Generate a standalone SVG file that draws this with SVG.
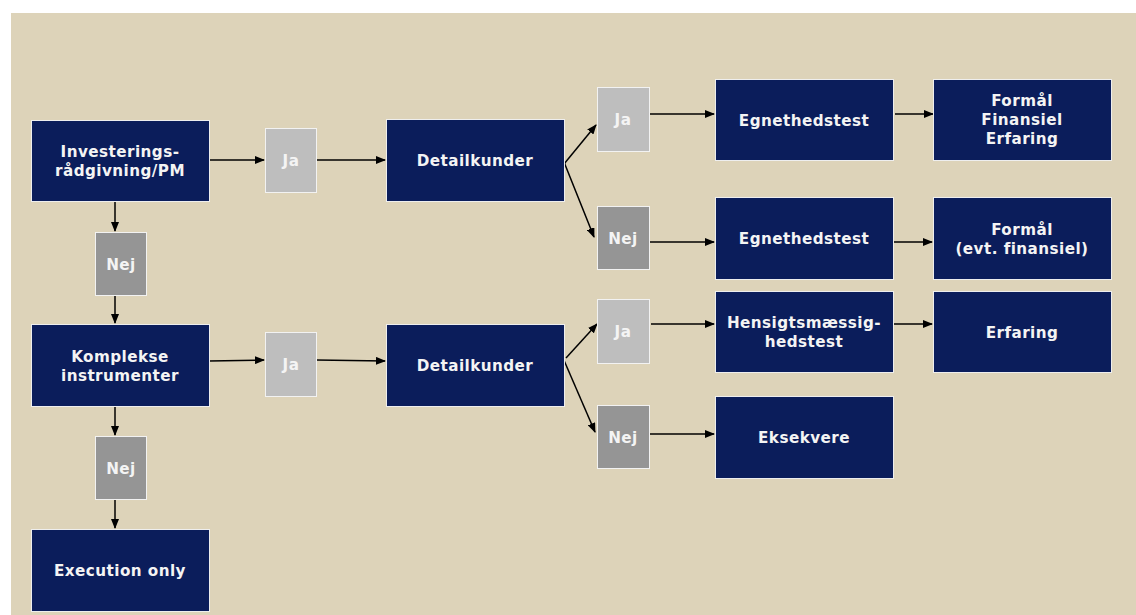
<svg xmlns="http://www.w3.org/2000/svg" width="1136" height="615" viewBox="0 0 1136 615">
<defs>
<marker id="ah" markerUnits="userSpaceOnUse" markerWidth="10" markerHeight="8" refX="9" refY="4" orient="auto">
<path d="M0,0 L10,4 L0,8 Z" fill="#000"/>
</marker>
<style>
.dk{fill:#0B1D5B;stroke:#EEEEEE;stroke-width:1}
.ja{fill:#BEBEBE;stroke:#F2F2F2;stroke-width:1}
.nej{fill:#959595;stroke:#F2F2F2;stroke-width:1}
text{font-family:"DejaVu Sans",Verdana,sans-serif;font-weight:bold;font-size:15.2px;letter-spacing:0.45px;fill:#F4F4F4;text-anchor:middle}
.c line{stroke:#000;stroke-width:1.5;marker-end:url(#ah)}
</style>
</defs>
<rect x="0" y="0" width="1136" height="615" fill="#FFFFFF"/>
<rect x="11" y="13" width="1125" height="602" fill="#DDD3B9"/>

<g class="c" id="connectors">
<line x1="209" y1="160" x2="264" y2="160"/>
<line x1="316" y1="160" x2="385" y2="160"/>
<line x1="564" y1="164" x2="596" y2="125"/>
<line x1="564" y1="162" x2="594" y2="237"/>
<line x1="649" y1="114" x2="714" y2="114"/>
<line x1="649" y1="242" x2="714" y2="242"/>
<line x1="895" y1="114" x2="933" y2="114"/>
<line x1="893" y1="242" x2="932" y2="242"/>
<line x1="115" y1="201" x2="115" y2="231"/>
<line x1="115" y1="295" x2="115" y2="323"/>
<line x1="209" y1="361" x2="264" y2="360"/>
<line x1="316" y1="360" x2="385" y2="361"/>
<line x1="115" y1="406" x2="115" y2="435"/>
<line x1="115" y1="499" x2="115" y2="528"/>
<line x1="566" y1="358" x2="597" y2="324"/>
<line x1="563" y1="358" x2="595" y2="432"/>
<line x1="651" y1="324" x2="714" y2="324"/>
<line x1="648" y1="434" x2="714" y2="434"/>
<line x1="893" y1="324" x2="932" y2="324"/>
</g>

<g id="investering"><rect class="dk" x="31.5" y="120.5" width="178" height="81"/><text x="120" y="157">Investerings-</text><text x="120" y="176">rådgivning/PM</text></g>
<g id="ja1"><rect class="ja" x="265.5" y="128.5" width="51" height="64"/><text x="291" y="166">Ja</text></g>
<g id="detail1"><rect class="dk" x="386.5" y="119.5" width="178" height="82"/><text x="475" y="166">Detailkunder</text></g>
<g id="ja2"><rect class="ja" x="597.5" y="87.5" width="52" height="64"/><text x="623" y="125">Ja</text></g>
<g id="nej2"><rect class="nej" x="597.5" y="206.5" width="52" height="63"/><text x="623" y="244">Nej</text></g>
<g id="egnet1"><rect class="dk" x="715.5" y="79.5" width="178" height="81"/><text x="804" y="126">Egnethedstest</text></g>
<g id="formaal1"><rect class="dk" x="933.5" y="79.5" width="178" height="81"/><text x="1022" y="106">Formål</text><text x="1022" y="125">Finansiel</text><text x="1022" y="144">Erfaring</text></g>
<g id="egnet2"><rect class="dk" x="715.5" y="197.5" width="178" height="82"/><text x="804" y="244">Egnethedstest</text></g>
<g id="formaal2"><rect class="dk" x="933.5" y="197.5" width="178" height="82"/><text x="1022" y="235">Formål</text><text x="1022" y="254">(evt. finansiel)</text></g>
<g id="nej1"><rect class="nej" x="95.5" y="232.5" width="51" height="63"/><text x="121" y="270">Nej</text></g>
<g id="komplekse"><rect class="dk" x="31.5" y="324.5" width="178" height="82"/><text x="120" y="362">Komplekse</text><text x="120" y="381">instrumenter</text></g>
<g id="ja3"><rect class="ja" x="265.5" y="332.5" width="51" height="64"/><text x="291" y="370">Ja</text></g>
<g id="detail2"><rect class="dk" x="386.5" y="324.5" width="178" height="82"/><text x="475" y="371">Detailkunder</text></g>
<g id="ja4"><rect class="ja" x="597.5" y="299.5" width="52" height="64"/><text x="623" y="337">Ja</text></g>
<g id="nej4"><rect class="nej" x="597.5" y="405.5" width="52" height="63"/><text x="623" y="443">Nej</text></g>
<g id="hensigt"><rect class="dk" x="715.5" y="291.5" width="178" height="81"/><text x="804" y="328">Hensigtsmæssig-</text><text x="804" y="347">hedstest</text></g>
<g id="erfaring"><rect class="dk" x="933.5" y="291.5" width="178" height="81"/><text x="1022" y="338">Erfaring</text></g>
<g id="eksekvere"><rect class="dk" x="715.5" y="396.5" width="178" height="82"/><text x="804" y="443">Eksekvere</text></g>
<g id="nej3"><rect class="nej" x="95.5" y="436.5" width="51" height="63"/><text x="121" y="474">Nej</text></g>
<g id="execution"><rect class="dk" x="31.5" y="529.5" width="178" height="82"/><text x="120" y="576">Execution only</text></g>
</svg>
